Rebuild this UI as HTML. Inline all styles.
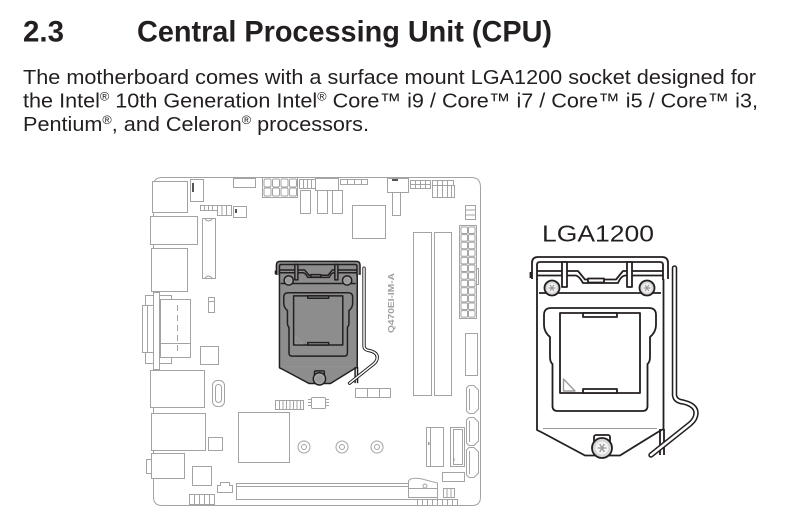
<!DOCTYPE html>
<html><head><meta charset="utf-8"><style>
html,body{margin:0;padding:0;background:#fff;}
svg{display:block;}
</style></head><body>
<svg width="804" height="526" viewBox="0 0 804 526" xmlns="http://www.w3.org/2000/svg">
<rect width="804" height="526" fill="#fff"/>
<defs>
<g id="sock" stroke="#231f20" stroke-linejoin="round" style="stroke-width:var(--sw)">
  <!-- body -->
  <path d="M537,275 V430 L543,433 L585,455.5 H620 L658,432 L663.5,429 V275 Z" style="fill:var(--sf)"/>
  <path d="M660,429 V455 M664,429 V455" fill="none"/>
  <!-- top bracket -->
  <path d="M532,279 V263 Q532,257 538,257 H662 Q668,257 668,263 V279 Z" style="fill:var(--sf)" stroke="none"/>
  <path d="M532,279 V263 Q532,257 538,257 H662 Q668,257 668,263 V279" fill="none"/>
  <path d="M530.5,272 V278" fill="none"/>
  <path d="M537,280 V265 Q537,262 540,262 H660 Q663,262 663,265 V280" fill="none"/>
  <path d="M537,271 H578 L585,279.5 H616 L623,271 H663" fill="none"/>
  <path d="M537,275.5 H576 Q579,276 583,283 H618 Q621,276 625,275.5 H663" fill="none"/>
  <rect x="562" y="262" width="5" height="25" style="fill:var(--sf)"/>
  <rect x="627" y="262" width="5" height="25" style="fill:var(--sf)"/>
  <rect x="588" y="278.5" width="16" height="4" style="fill:var(--sf)"/>
  <path d="M539,293 H661" fill="none"/>
  <!-- top screws -->
  <circle cx="552" cy="288" r="7.5" style="fill:var(--scf)"/>
  <circle cx="552" cy="288" r="4.8" style="fill:var(--in)" stroke="none"/>
  <path d="M548.5,288 H555.5 M550.2,285 L553.8,291 M553.8,285 L550.2,291" stroke="#999" stroke-width="1.2" fill="none"/>
  <circle cx="647" cy="288" r="7.5" style="fill:var(--scf)"/>
  <circle cx="647" cy="288" r="4.8" style="fill:var(--in)" stroke="none"/>
  <path d="M643.5,288 H650.5 M645.2,285 L648.8,291 M648.8,285 L645.2,291" stroke="#999" stroke-width="1.2" fill="none"/>
  <!-- inner frame -->
  <path d="M551,308 H649 Q656,308 656,315 V325 Q656,332 650,337 V357 Q650,362 647.5,364 V406 Q647.5,411 642.5,411 H557.5 Q552.5,411 552.5,406 V364 Q550,362 550,357 V337 Q544,332 544,325 V315 Q544,308 551,308 Z" style="fill:var(--sf)"/>
  <rect x="560" y="313" width="80" height="80" style="fill:var(--sf)"/>
  <rect x="583" y="313" width="34" height="4" style="fill:var(--sf)"/>
  <rect x="583" y="389" width="34" height="4" style="fill:var(--sf)"/>
  <polygon points="563.5,379 563.5,391 575,391" fill="none" stroke="#9a9a9a" stroke-width="1.4"/>
  <path d="M543,428.5 H657" stroke="#9a9a9a" stroke-width="0.9" fill="none"/>
  <!-- bottom screw -->
  <rect x="594" y="435" width="16" height="8" rx="2" style="fill:var(--sf)"/>
  <circle cx="602" cy="448" r="10" style="fill:var(--scf)"/>
  <circle cx="602" cy="448" r="6.5" style="fill:var(--in)" stroke="none"/>
  <path d="M597.5,448 H606.5 M599.7,444 L604.3,452 M604.3,444 L599.7,452" stroke="#999" stroke-width="1.3" fill="none"/>
  <!-- lever -->
  <path d="M674.5,268 V395 Q675,401 683,402 Q696,405 696,413 Q696,419 690,424 L651,455" fill="none" stroke="#231f20" stroke-width="5.5" stroke-linecap="round"/>
  <path d="M674.5,268 V395 Q675,401 683,402 Q696,405 696,413 Q696,419 690,424 L651,455" fill="none" stroke="#fff" stroke-width="2.4" stroke-linecap="round"/>
</g>
</defs>

<!-- Text -->
<g font-family="'Liberation Sans', Arial, sans-serif" fill="#231f20">
  <text x="23" y="41.7" font-size="30" font-weight="bold" textLength="41" lengthAdjust="spacingAndGlyphs">2.3</text>
  <text x="137" y="41.7" font-size="30" font-weight="bold" textLength="415" lengthAdjust="spacingAndGlyphs">Central Processing Unit (CPU)</text>
  <text x="23" y="84" font-size="20.5" textLength="733" lengthAdjust="spacingAndGlyphs">The motherboard comes with a surface mount LGA1200 socket designed for</text>
  <text x="23" y="107.5" font-size="20.5" textLength="735" lengthAdjust="spacingAndGlyphs">the Intel<tspan font-size="12" dy="-7">®</tspan><tspan dy="7"> 10th Generation Intel</tspan><tspan font-size="12" dy="-7">®</tspan><tspan dy="7"> Core™ i9 / Core™ i7 / Core™ i5 / Core™ i3,</tspan></text>
  <text x="23" y="131" font-size="20.5" textLength="346" lengthAdjust="spacingAndGlyphs">Pentium<tspan font-size="12" dy="-7">®</tspan><tspan dy="7">, and Celeron</tspan><tspan font-size="12" dy="-7">®</tspan><tspan dy="7"> processors.</tspan></text>
  <text x="542" y="241.5" font-size="23.5" textLength="112" lengthAdjust="spacingAndGlyphs">LGA1200</text>
</g>

<!-- Motherboard -->
<g stroke="#a3a3a3" stroke-width="1" fill="#fff">
  <path d="M153.5,186 Q153.5,177.5 162,177.5 H471 Q480.5,177.5 480.5,187 V497 Q480.5,505.5 472,505.5 H162 Q153.5,505.5 153.5,497 Z" fill="none"/>
  <!-- left IO -->
  <rect x="152.5" y="181.5" width="35" height="31"/>
  <rect x="190.5" y="179.5" width="13" height="22"/>
  <rect x="192" y="183" width="2" height="9" fill="#555" stroke="none"/>
  <rect x="150.5" y="216.5" width="47" height="28"/>
  <rect x="151.5" y="248.5" width="36" height="43"/>
  <rect x="142.5" y="305.5" width="5" height="47"/>
  <rect x="145.5" y="295.5" width="26" height="10"/>
  <rect x="145.5" y="352.5" width="26" height="11"/>
  <rect x="160.5" y="299.5" width="30" height="58"/>
  <line x1="177.5" y1="305" x2="177.5" y2="353" stroke-dasharray="6,4"/>
  <line x1="160" y1="343.5" x2="190" y2="343.5"/>
  <rect x="153.5" y="292.5" width="6" height="77"/>
  <rect x="208.5" y="297.5" width="6" height="15"/>
  <line x1="208.5" y1="301.5" x2="214.5" y2="301.5"/>
  <rect x="200.5" y="346.5" width="18" height="18"/>
  <rect x="150.5" y="370.5" width="54" height="37"/>
  <rect x="212.5" y="380.5" width="12" height="26" rx="5"/>
  <rect x="215.5" y="384.5" width="6" height="18" rx="3"/>
  <rect x="151.5" y="413.5" width="54" height="37"/>
  <rect x="208.5" y="437.5" width="14" height="13"/>
  <rect x="146.5" y="459.5" width="5" height="14"/>
  <rect x="151.5" y="453.5" width="33" height="25"/>
  <rect x="192.5" y="466.5" width="19" height="19"/>
  <path d="M217.5,492.5 V485.5 H220.5 V482.5 H229.5 V485.5 H232.5 V492.5 Z"/>
  <rect x="189.5" y="494.5" width="25" height="10"/>
  <path d="M194.5,494.5 V504.5 M199.5,494.5 V504.5 M204.5,494.5 V504.5 M209.5,494.5 V504.5" fill="none"/>
  <!-- top area -->
  <rect x="200.5" y="205.5" width="17" height="5"/>
  <path d="M204.5,205.5 V210.5 M208.5,205.5 V210.5 M212.5,205.5 V210.5" fill="none"/>
  <rect x="217.5" y="205.5" width="14" height="10"/>
  <path d="M222,205.5 V215.5 M226.5,205.5 V215.5" fill="none"/>
  <rect x="233.5" y="206.5" width="13" height="11"/>
  <rect x="235" y="209" width="2" height="4" fill="#555" stroke="none"/>
  <rect x="202.5" y="218.5" width="13" height="60"/>
  <path d="M205,219 Q208.5,223 212,219 M205,278 Q208.5,274 212,278" fill="none"/>
  <rect x="233.5" y="178.5" width="22" height="9"/>
  <rect x="262.5" y="177.5" width="35" height="20"/>
  <g>
    <rect x="264" y="179" width="7" height="8" rx="1.5"/><rect x="272.5" y="179" width="7" height="8" rx="1.5"/><rect x="281" y="179" width="7" height="8" rx="1.5"/><rect x="289.5" y="179" width="7" height="8" rx="1.5"/>
    <rect x="264" y="188" width="7" height="8" rx="1.5"/><rect x="272.5" y="188" width="7" height="8" rx="1.5"/><rect x="281" y="188" width="7" height="8" rx="1.5"/><rect x="289.5" y="188" width="7" height="8" rx="1.5"/>
  </g>
  <rect x="299.5" y="179.5" width="16" height="9"/>
  <path d="M303.5,179.5 V188.5 M307.5,179.5 V188.5 M311.5,179.5 V188.5" fill="none"/>
  <rect x="315.5" y="178.5" width="23" height="12"/>
  <rect x="340.5" y="179.5" width="27" height="5"/>
  <path d="M347.5,179.5 V184.5 M354.5,179.5 V184.5 M361.5,179.5 V184.5" fill="none"/>
  <rect x="300.5" y="190.5" width="10" height="23"/>
  <rect x="317.5" y="190.5" width="10" height="23"/>
  <rect x="332.5" y="190.5" width="10" height="23"/>
  <rect x="352.5" y="205.5" width="33" height="33"/>
  <rect x="387.5" y="178.5" width="21" height="14"/>
  <rect x="392" y="179" width="6" height="2" fill="#555" stroke="none"/>
  <rect x="392.5" y="192.5" width="8" height="23"/>
  <rect x="410.5" y="180.5" width="20" height="8"/>
  <path d="M415.5,180.5 V188.5 M420.5,180.5 V188.5 M425.5,180.5 V188.5 M410.5,184.5 H430.5" fill="none"/>
  <rect x="432.5" y="180.5" width="21" height="5"/>
  <path d="M437.5,180.5 V185.5 M442.5,180.5 V185.5 M447.5,180.5 V185.5" fill="none"/>
  <rect x="432.5" y="185.5" width="22" height="12"/>
  <path d="M437.5,185.5 V197.5 M442.5,185.5 V197.5 M447.5,185.5 V197.5 M451.5,185.5 V197.5" fill="none"/>
  <rect x="465.5" y="205.5" width="10" height="14"/>
  <path d="M465.5,210 H475.5 M465.5,215 H475.5" fill="none"/>
  <!-- ATX -->
  <rect x="476.5" y="268.5" width="2" height="16"/>
  <rect x="459.5" y="225.5" width="17" height="93"/>
  <g>
    <rect x="461" y="227" width="6.5" height="6.5" rx="1"/><rect x="468.5" y="227" width="6.5" height="6.5" rx="1"/>
    <rect x="461" y="234.6" width="6.5" height="6.5" rx="1"/><rect x="468.5" y="234.6" width="6.5" height="6.5" rx="1"/>
    <rect x="461" y="242.2" width="6.5" height="6.5" rx="1"/><rect x="468.5" y="242.2" width="6.5" height="6.5" rx="1"/>
    <rect x="461" y="249.8" width="6.5" height="6.5" rx="1"/><rect x="468.5" y="249.8" width="6.5" height="6.5" rx="1"/>
    <rect x="461" y="257.4" width="6.5" height="6.5" rx="1"/><rect x="468.5" y="257.4" width="6.5" height="6.5" rx="1"/>
    <rect x="461" y="265" width="6.5" height="6.5" rx="1"/><rect x="468.5" y="265" width="6.5" height="6.5" rx="1"/>
    <rect x="461" y="272.6" width="6.5" height="6.5" rx="1"/><rect x="468.5" y="272.6" width="6.5" height="6.5" rx="1"/>
    <rect x="461" y="280.2" width="6.5" height="6.5" rx="1"/><rect x="468.5" y="280.2" width="6.5" height="6.5" rx="1"/>
    <rect x="461" y="287.8" width="6.5" height="6.5" rx="1"/><rect x="468.5" y="287.8" width="6.5" height="6.5" rx="1"/>
    <rect x="461" y="295.4" width="6.5" height="6.5" rx="1"/><rect x="468.5" y="295.4" width="6.5" height="6.5" rx="1"/>
    <rect x="461" y="303" width="6.5" height="6.5" rx="1"/><rect x="468.5" y="303" width="6.5" height="6.5" rx="1"/>
    <rect x="461" y="310.6" width="6.5" height="6.5" rx="1"/><rect x="468.5" y="310.6" width="6.5" height="6.5" rx="1"/>
  </g>
  <!-- DIMMs -->
  <rect x="413.5" y="232.5" width="18" height="163"/>
  <rect x="434.5" y="232.5" width="17" height="163"/>
  <rect x="465.5" y="333.5" width="12" height="42"/>
  <!-- SATA -->
  <path d="M466.5,388 L469,385.5 H474 L478.5,390 V409 L474,413.5 H469 L466.5,411 Z"/>
  <path d="M469.5,389 V410" fill="none"/>
  <path d="M466.5,420 L469,417.5 H474 L478.5,422 V441 L474,445.5 H469 L466.5,443 Z"/>
  <path d="M469.5,421 V442" fill="none"/>
  <path d="M466.5,450 L469,447.5 H474 L478.5,452 V473 L474,477.5 H469 L466.5,475 Z"/>
  <path d="M469.5,451 V474" fill="none"/>
  <!-- M.2 -->
  <rect x="426.5" y="427.5" width="17" height="39"/>
  <path d="M430.5,428 V466" fill="none"/>
  <rect x="428" y="442" width="1.5" height="3" fill="#999" stroke="none"/>
  <rect x="450.5" y="427.5" width="14" height="39"/>
  <rect x="453.5" y="429.5" width="9" height="35"/>
  <rect x="453" y="458" width="1.5" height="3" fill="#999" stroke="none"/>
  <rect x="442.5" y="472.5" width="22" height="9"/>
  <rect x="443.5" y="488.5" width="11" height="9"/>
  <path d="M447,488.5 V497.5 M451,488.5 V497.5" fill="none"/>
  <rect x="417.5" y="499.5" width="40" height="6"/>
  <path d="M422.5,499.5 V505.5 M427.5,499.5 V505.5 M432.5,499.5 V505.5 M437.5,499.5 V505.5 M442.5,499.5 V505.5 M447.5,499.5 V505.5 M452.5,499.5 V505.5" fill="none"/>
  <!-- PCIe -->
  <rect x="236.5" y="483.5" width="201" height="16"/>
  <path d="M236.5,486.5 H408" fill="none"/>
  <path d="M408.5,497.5 V481 Q410,477.5 420,478.5 L437.5,483 V497.5 Z"/>
  <path d="M408.5,488.5 H437.5" fill="none"/>
  <circle cx="425" cy="486" r="2"/>
  <!-- lower middle -->
  <rect x="275.5" y="400.5" width="28" height="9"/>
  <path d="M279.5,400.5 V409.5 M283,400.5 V409.5 M286.5,400.5 V409.5 M290,400.5 V409.5 M293.5,400.5 V409.5 M297,400.5 V409.5 M300.5,400.5 V409.5" fill="none"/>
  <rect x="311.5" y="397.5" width="14" height="11" rx="1"/>
  <path d="M308,399.5 H311.5 M308,402.5 H311.5 M308,405.5 H311.5 M325.5,399.5 H329 M325.5,402.5 H329 M325.5,405.5 H329" fill="none"/>
  <rect x="238.5" y="412.5" width="51" height="50"/>
  <circle cx="304" cy="447" r="6"/><circle cx="304" cy="447" r="2.5"/>
  <circle cx="342" cy="447" r="6"/><circle cx="342" cy="447" r="2.5"/>
  <circle cx="377" cy="447" r="6"/><circle cx="377" cy="447" r="2.5"/>
  <rect x="355.5" y="388.5" width="35" height="9"/>
  <path d="M367.5,388.5 V397.5 M379.5,388.5 V397.5" fill="none"/>
</g>
<text x="394" y="303" transform="rotate(-90 394 303)" font-family="'Liberation Sans', Arial, sans-serif" font-size="8.5" font-weight="bold" fill="#a0a0a0" text-anchor="middle" textLength="60" lengthAdjust="spacingAndGlyphs">Q470EI-IM-A</text>

<!-- small socket on board -->
<use href="#sock" transform="translate(277,262) scale(0.615) translate(-533,-258)" style="--sf:#8d8d8d;--scf:#a9a9a9;--in:#9c9c9c;--sw:2.4"/>
<!-- big socket -->
<use href="#sock" style="--sf:#ffffff;--scf:#d6d6d6;--in:#f4f4f4;--sw:1.8"/>
</svg>
</body></html>
